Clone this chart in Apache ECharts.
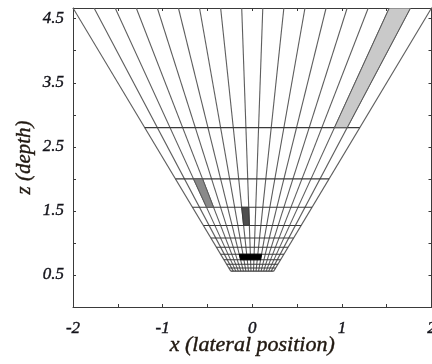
<!DOCTYPE html>
<html>
<head>
<meta charset="utf-8">
<script src="https://cdn.jsdelivr.net/npm/echarts@6/dist/echarts.min.js"></script>
<style>
  html, body { margin: 0; padding: 0; background: #fff; }
  #chart { width: 432px; height: 364px; }
</style>
</head>
<body>
<div id="chart"></div>
<script>
// Lateral slope (x per unit depth) of each viewing ray; all rays start at the origin.
const raySlopes = [
  -0.4286, -0.3782, -0.3277, -0.2773, -0.2269, -0.1765, -0.1261, -0.0756, -0.0252,
   0.0252,  0.0756,  0.1261,  0.1765,  0.2269,  0.2773,  0.3277,  0.3782,  0.4286
];

// Depth levels bounding the resolution cells (deepest first).
const depthLevels = [4.667, 2.8, 2.0, 1.556, 1.273, 1.077, 0.933, 0.824, 0.737, 0.667, 0.609, 0.56];

// Shaded cells: pair of bounding rays and pair of bounding depths.
const cellRays = [[15, 16], [2, 3], [7, 8], [5, 11]];
const cellDepths = [[2.8, 4.667], [1.556, 2.0], [1.273, 1.556], [0.737, 0.824]];

// Axis labels.
const xLabels = ['-2', '-1', '0', '1', '2'];
const yLabels = ['0.5', '1.5', '2.5', '3.5', '4.5'];

const xAxisTitle = 'x (lateral position)';
const yAxisTitle = 'z (depth)';

// Styles
const cellColors = ['#c9c9c9', '#8a8a8a', '#4e4e4e', '#000000'];
const cellEdges = ['#5a5a5a', '#5a5a5a', '#3a3a3a', '#000000'];
const rayColor = '#5e5e5e';
const levelColor = '#3a3a3a';
const frameColor = '#3a3a3a';
const labelFont = {
  fontFamily: 'Liberation Serif', fontStyle: 'italic', fontWeight: 'normal', fontSize: 17,
  color: '#15151c', textBorderColor: '#15151c', textBorderWidth: 0.4
};
const nameBase = {
  fontFamily: 'Liberation Serif', fontStyle: 'italic', fontWeight: 'normal',
  color: '#201810', textBorderColor: '#201810', textBorderWidth: 0.4
};
const xNameFont = Object.assign({ fontSize: 22 }, nameBase);
const yNameFont = Object.assign({ fontSize: 21 }, nameBase);

const zTop = depthLevels[0];
const zBottom = depthLevels[depthLevels.length - 1];

// Segments: rays from the shallowest level up to the top, then each depth level
// spanning the outermost rays (levels below the top only).
const raySegments = raySlopes.map(s => [s * zBottom, zBottom, s * zTop, zTop]);
const sMin = raySlopes[0], sMax = raySlopes[raySlopes.length - 1];
const levelSegments = depthLevels.slice(1).map(z => [sMin * z, z, sMax * z, z]);

// Cell polygons: four corners (ray a / ray b at near and far depth).
const cellPolys = cellRays.map((r, i) => {
  const [a, b] = r;
  const [z0, z1] = cellDepths[i];
  return [raySlopes[a] * z0, z0, raySlopes[b] * z0, z0,
          raySlopes[b] * z1, z1, raySlopes[a] * z1, z1, i];
});

function segmentRenderer(color) {
  return function (params, api) {
    const p1 = api.coord([api.value(0), api.value(1)]);
    const p2 = api.coord([api.value(2), api.value(3)]);
    return {
      type: 'line',
      shape: { x1: p1[0], y1: p1[1], x2: p2[0], y2: p2[1] },
      style: { stroke: color, lineWidth: 1.1 }
    };
  };
}

function isOdd(v, step) {
  return Math.abs(Math.round(v / step)) % 2 === 1;
}

const chart = echarts.init(document.getElementById('chart'), null, { renderer: 'canvas' });

const baseAxis = {
  axisLine: { show: true, onZero: false, lineStyle: { color: frameColor, width: 1 } },
  axisTick: { show: true, inside: true, length: 3, lineStyle: { color: frameColor } },
  splitLine: { show: false }
};

chart.setOption({
  animation: false,
  backgroundColor: '#ffffff',
  grid: { left: 73, right: 0.5, top: 8, bottom: 57, containLabel: false, outerBoundsMode: 'none' },
  xAxis: [
    Object.assign({}, baseAxis, {
      type: 'value', position: 'bottom', min: -2, max: 2, interval: 0.5,
      name: xAxisTitle, nameLocation: 'middle', nameGap: 27, nameMoveOverlap: false,
      nameTextStyle: xNameFont,
      axisLabel: Object.assign({}, labelFont, {
        margin: 13,
        showMaxLabel: true,
        formatter: v => (Number.isInteger(v) ? xLabels[v + 2] : '')
      })
    }),
    Object.assign({}, baseAxis, {
      type: 'value', position: 'top', min: -2, max: 2, interval: 0.5,
      axisLabel: { show: false }
    })
  ],
  yAxis: [
    Object.assign({}, baseAxis, {
      type: 'value', position: 'left', min: 0, max: zTop, interval: 0.5,
      name: yAxisTitle, nameLocation: 'middle', nameGap: 38, nameMoveOverlap: false, nameRotate: 90,
      nameTextStyle: yNameFont,
      axisLabel: Object.assign({}, labelFont, {
        margin: 9,
        showMaxLabel: false,
        formatter: v => (isOdd(v, 0.5) && v < zTop - 0.01 ? yLabels[Math.round(v - 0.5)] : '')
      })
    }),
    Object.assign({}, baseAxis, {
      type: 'value', position: 'right', min: 0, max: zTop, interval: 0.5,
      axisLabel: { show: false }
    })
  ],
  series: [
    {
      type: 'custom',
      xAxisIndex: 0, yAxisIndex: 0,
      clip: true,
      data: raySegments,
      encode: { x: [0, 2], y: [1, 3] },
      renderItem: segmentRenderer(rayColor),
      z: 1
    },
    {
      type: 'custom',
      xAxisIndex: 0, yAxisIndex: 0,
      clip: true,
      data: levelSegments,
      encode: { x: [0, 2], y: [1, 3] },
      renderItem: segmentRenderer(levelColor),
      z: 2
    },
    {
      type: 'custom',
      xAxisIndex: 0, yAxisIndex: 0,
      clip: true,
      data: cellPolys,
      encode: { x: [0, 2, 4, 6], y: [1, 3, 5, 7] },
      renderItem: function (params, api) {
        const pts = [];
        for (let k = 0; k < 4; k++) {
          pts.push(api.coord([api.value(2 * k), api.value(2 * k + 1)]));
        }
        const i = api.value(8);
        return {
          type: 'polygon',
          shape: { points: pts },
          style: { fill: cellColors[i], stroke: cellEdges[i], lineWidth: 1 }
        };
      },
      z: 3
    }
  ]
});
</script>
</body>
</html>
